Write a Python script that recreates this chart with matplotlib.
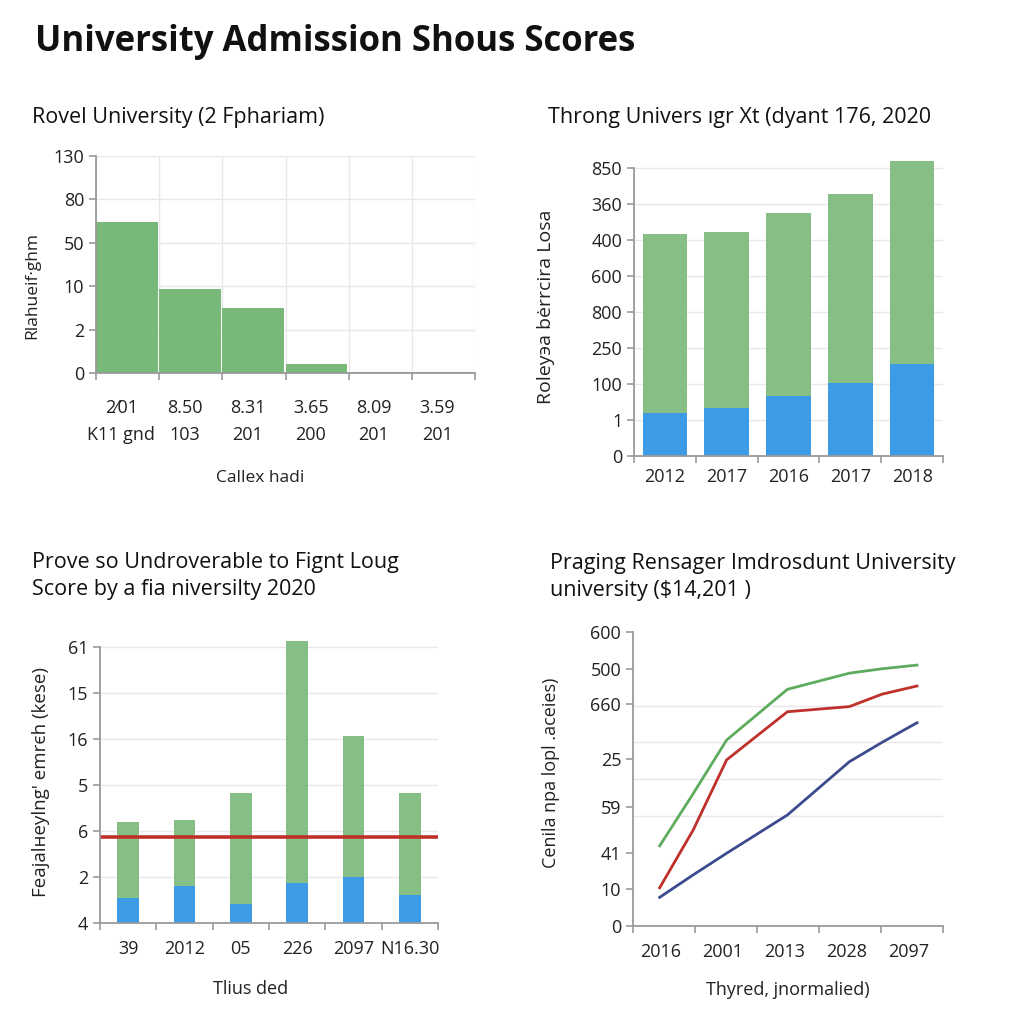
import numpy as np
import matplotlib.pyplot as plt

plt.rcParams['font.family'] = ['Open Sans', 'DejaVu Sans']

# ---- data ----
# panel 1: histogram-like bars (heights in tick-slot units)
p1_heights = [3.48, 1.94, 1.50, 0.21, 0.03, 0.02]
p1_yticklabels = ['0', '2', '10', '50', '80', '130']
p1_xlabels_top = ['2⁄01', '8.50', '8.31', '3.65', '8.09', '3.59']
p1_xlabels_bot = ['K11 gnd', '103', '201', '200', '201', '201']

# panel 2: stacked bars
p2_years = ['2012', '2017', '2016', '2017', '2018']
p2_blue = [1.19, 1.33, 1.67, 2.03, 2.56]
p2_total = [6.17, 6.22, 6.75, 7.28, 8.19]
p2_yticklabels = ['0', '1', '100', '250', '800', '600', '400', '360', '850']

# panel 3: stacked bars with reference line
p3_cats = ['39', '2012', '05', '226', '2097', 'N16.30']
p3_blue = [0.54, 0.80, 0.41, 0.87, 1.00, 0.61]
p3_total = [2.20, 2.24, 2.83, 6.13, 4.07, 2.83]
p3_ref = 1.87
p3_yticklabels = ['4', '2', '6', '5', '16', '15', '61']

# panel 4: lines
p4_x = [0.43, 0.97, 1.51, 2.49, 3.49, 4.02, 4.58]
p4_green = [2.18, 3.60, 5.06, 6.44, 6.88, 7.00, 7.10]
p4_red = [1.04, 2.61, 4.52, 5.83, 5.97, 6.31, 6.53]
p4_blue = [0.78, 1.39, 1.98, 3.02, 4.47, 5.00, 5.53]
p4_years = ['2016', '2001', '2013', '2028', '2097']
p4_ytickpos = [0, 1, 2, 3.25, 4.55, 6.05, 7.0, 8.0]
p4_yticklabels = ['0', '10', '41', '5̄9', '25', '660', '500', '600']

GREEN = '#78b878'
GREEN2 = '#86bf86'
BLUE = '#3d9be6'
RED = '#c0302a'
NAVY = '#3c4b8e'
LGREEN = '#5eac5e'
GRID = '#e8e8e8'
SPINE = '#9a9a9a'
TXT = '#222222'
TICKSIZE = 13

fig = plt.figure(figsize=(10.24, 10.24), dpi=100)
W = 1024.0


def box(l, t, r, b):
    return [l / W, 1 - b / W, (r - l) / W, (b - t) / W]


def style(ax):
    for s in ['top', 'right']:
        ax.spines[s].set_visible(False)
    for s in ['left', 'bottom']:
        ax.spines[s].set_color(SPINE)
        ax.spines[s].set_linewidth(1.3)
    ax.tick_params(colors=SPINE, labelcolor=TXT, labelsize=TICKSIZE, length=5, width=1.2)
    ax.set_axisbelow(True)


fig.text(35 / W, 1 - 42 / W, 'University Admission Shous Scores', fontsize=25,
         fontweight='bold', va='center', ha='left', color='#111111')

# ---- panel 1 ----
ax1 = fig.add_axes(box(96, 156, 475, 373))
style(ax1)
n1 = len(p1_heights)
ax1.bar(np.arange(n1), p1_heights, width=0.98, align='edge', color=GREEN, linewidth=0)
ax1.set_xlim(0, n1)
ax1.set_ylim(0, 5)
ax1.set_yticks(range(len(p1_yticklabels)), p1_yticklabels)
ax1.set_xticks(range(n1 + 1), [''] * (n1 + 1))
ax1.set_xticks(np.arange(n1) + 0.4, [a + '\n' + b for a, b in zip(p1_xlabels_top, p1_xlabels_bot)],
               minor=True)
ax1.tick_params(axis='x', which='minor', length=0, pad=19, labelsize=TICKSIZE, labelcolor=TXT)
for lab in ax1.get_xticklabels(minor=True):
    lab.set_linespacing(1.65)
ax1.grid(True, color=GRID, linewidth=1)
ax1.set_xlabel('Callex hadi', fontsize=12.5, color=TXT)
ax1.xaxis.set_label_coords(0.433, -0.447)
ax1.set_ylabel('Rlahueif·ghm', fontsize=12.5, color=TXT)
ax1.yaxis.set_label_coords(-0.148, 0.405)
fig.text(32 / W, 1 - 117 / W, 'Rovel University (2 Fphariam)', fontsize=15.5,
         va='center', ha='left', color='#111111')

# ---- panel 2 ----
ax2 = fig.add_axes(box(634, 161, 943, 456))
style(ax2)
x2 = np.arange(len(p2_years)) + 0.5
ax2.bar(x2, p2_total, width=0.72, color=GREEN2, linewidth=0)
ax2.bar(x2, p2_blue, width=0.72, color=BLUE, linewidth=0)
ax2.set_xlim(0, len(p2_years))
ax2.set_ylim(0, 8.2)
ax2.spines['left'].set_bounds(0, 8)
ax2.set_yticks(range(len(p2_yticklabels)), p2_yticklabels)
ax2.set_xticks(range(len(p2_years) + 1), [''] * (len(p2_years) + 1))
ax2.set_xticks(x2, p2_years, minor=True)
ax2.tick_params(axis='x', which='minor', length=0, pad=9, labelsize=TICKSIZE, labelcolor=TXT)
ax2.grid(True, axis='y', color=GRID, linewidth=1)
ax2.set_ylabel('Roleyэa bėrrcira Losa', fontsize=14, color=TXT)
ax2.yaxis.set_label_coords(-0.256, 0.505)
fig.text(548 / W, 1 - 117 / W, 'Throng Univers ıgr Xt (dyant 176, 2020', fontsize=15.5,
         va='center', ha='left', color='#111111')

# ---- panel 3 ----
ax3 = fig.add_axes(box(100, 640, 438, 923))
style(ax3)
x3 = np.arange(len(p3_cats)) + 0.5
ax3.bar(x3, p3_total, width=0.38, color=GREEN2, linewidth=0)
ax3.bar(x3, p3_blue, width=0.38, color=BLUE, linewidth=0)
ax3.axhline(p3_ref, xmin=0.005, xmax=1, color=RED, linewidth=2.6)
ax3.set_xlim(0, len(p3_cats))
ax3.set_ylim(0, 6.15)
ax3.spines['left'].set_bounds(0, 6)
ax3.set_yticks(range(len(p3_yticklabels)), p3_yticklabels)
ax3.set_xticks(range(len(p3_cats) + 1), [''] * (len(p3_cats) + 1))
ax3.set_xticks(x3, p3_cats, minor=True)
ax3.tick_params(axis='x', which='minor', length=0, pad=12, labelsize=TICKSIZE, labelcolor=TXT)
ax3.grid(True, axis='y', color=GRID, linewidth=1)
ax3.set_xlabel('Tlius ded', fontsize=13, color=TXT)
ax3.xaxis.set_label_coords(0.444, -0.20)
ax3.set_ylabel("Feajalнeylng' emrєh (kese)", fontsize=13.5, color=TXT)
ax3.yaxis.set_label_coords(-0.148, 0.498)
fig.text(32 / W, 1 - 576 / W, 'Prove so Undroverable to Fignt Loug\nScore by a fia niversilty 2020',
         fontsize=15.5, va='center', ha='left', color='#111111', linespacing=1.35)

# ---- panel 4 ----
ax4 = fig.add_axes(box(633, 632, 943, 926))
style(ax4)
ax4.plot(p4_x, p4_green, color=LGREEN, linewidth=2)
ax4.plot(p4_x, p4_red, color=RED, linewidth=2)
ax4.plot(p4_x, p4_blue, color=NAVY, linewidth=2)
ax4.set_xlim(0, 5)
ax4.set_ylim(0, 8)
ax4.set_yticks(p4_ytickpos, p4_yticklabels)
ax4.set_yticks(range(9), minor=True)
ax4.tick_params(axis='y', which='minor', length=0)
ax4.grid(True, axis='y', which='minor', color=GRID, linewidth=1)
ax4.set_xticks(range(6), [''] * 6)
ax4.set_xticks(np.arange(5) + 0.45, p4_years, minor=True)
ax4.tick_params(axis='x', which='minor', length=0, pad=12, labelsize=TICKSIZE, labelcolor=TXT)
ax4.set_xlabel('Thyred, jnormalied)', fontsize=13, color=TXT)
ax4.xaxis.set_label_coords(0.5, -0.187)
ax4.set_ylabel('Cenila npa lopl .aceies)', fontsize=13, color=TXT)
ax4.yaxis.set_label_coords(-0.235, 0.52)
fig.text(550 / W, 1 - 577 / W, 'Praging Rensager Imdrosdunt University\nuniversity ($14,201 )',
         fontsize=15.5, va='center', ha='left', color='#111111', linespacing=1.35)

fig.savefig('out.png', dpi=100, facecolor='white')
